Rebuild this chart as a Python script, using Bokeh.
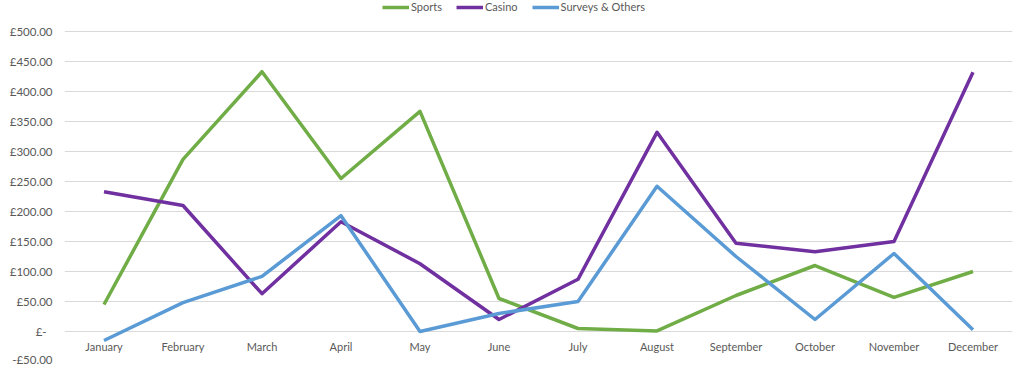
from bokeh.plotting import figure
from bokeh.models import FixedTicker, Legend, LegendItem, ColumnDataSource
from bokeh.core.properties import value
from bokeh.embed import file_html
from bokeh.resources import INLINE

months = ["January", "February", "March", "April", "May", "June", "July",
          "August", "September", "October", "November", "December"]
sports = [45, 287, 433, 255, 367, 55, 5, 1, 60, 110, 57, 100]
casino = [233, 210, 63, 183, 113, 20, 87, 332, 147, 133, 150, 432]
surveys = [-15, 48, 92, 193, 0, 30, 50, 242, 125, 20, 130, 3]

y_ticks = [-50, 0, 50, 100, 150, 200, 250, 300, 350, 400, 450, 500]
y_labels = {v: ("£-\u00a0\u00a0" if v == 0 else ("-£%.2f" % abs(v) if v < 0 else "£%.2f" % v)) for v in y_ticks}

FONT = "Lato"
TXT = "#595959"

p = figure(width=1024, height=365, x_range=months, y_range=(-50, 551.7),
           output_backend="svg", toolbar_location=None,
           min_border_left=64, min_border_right=12, min_border_top=0, min_border_bottom=4)
p.outline_line_color = None
p.background_fill_color = "white"
p.border_fill_color = "white"

series = [("Sports", sports, "#70AD47"), ("Casino", casino, "#7030A0"),
          ("Surveys & Others", surveys, "#5B9BD5")]
items = []
for name, vals, col in series:
    r = p.line(months, vals, line_color=col, line_width=3.5, line_join="round")
    items.append(LegendItem(label=name, renderers=[r]))

# month labels sitting just under the zero line, as in the reference
src = ColumnDataSource(dict(x=months, y=[0] * len(months)))
p.text(x="x", y="y", text="x", source=src, text_font=value(FONT), text_font_size="11px",
       text_color=TXT, text_align="center", text_baseline="top", y_offset=8)

legend = Legend(items=items, orientation="horizontal", location=(318, 348),
                label_text_font=FONT, label_text_font_size="11px", label_text_color=TXT,
                glyph_width=27, glyph_height=10, label_standoff=2, spacing=14,
                padding=0, margin=0, border_line_color=None, background_fill_alpha=0)
p.add_layout(legend)

p.xgrid.grid_line_color = None
p.ygrid.grid_line_color = "#D9D9D9"
p.ygrid.grid_line_width = 1
p.ygrid.ticker = FixedTicker(ticks=y_ticks)

p.yaxis.ticker = FixedTicker(ticks=y_ticks)
p.yaxis.major_label_overrides = y_labels
p.yaxis.axis_line_color = None
p.yaxis.major_tick_line_color = None
p.yaxis.minor_tick_line_color = None
p.yaxis.major_tick_in = 0
p.yaxis.major_tick_out = 0
p.yaxis.minor_tick_in = 0
p.yaxis.minor_tick_out = 0
p.yaxis.major_label_text_font = FONT
p.yaxis.major_label_text_font_size = "11.5px"
p.yaxis.major_label_text_color = TXT
p.yaxis.major_label_standoff = 12

p.xaxis.visible = False

open("out.html", "w").write(file_html(p, INLINE))
